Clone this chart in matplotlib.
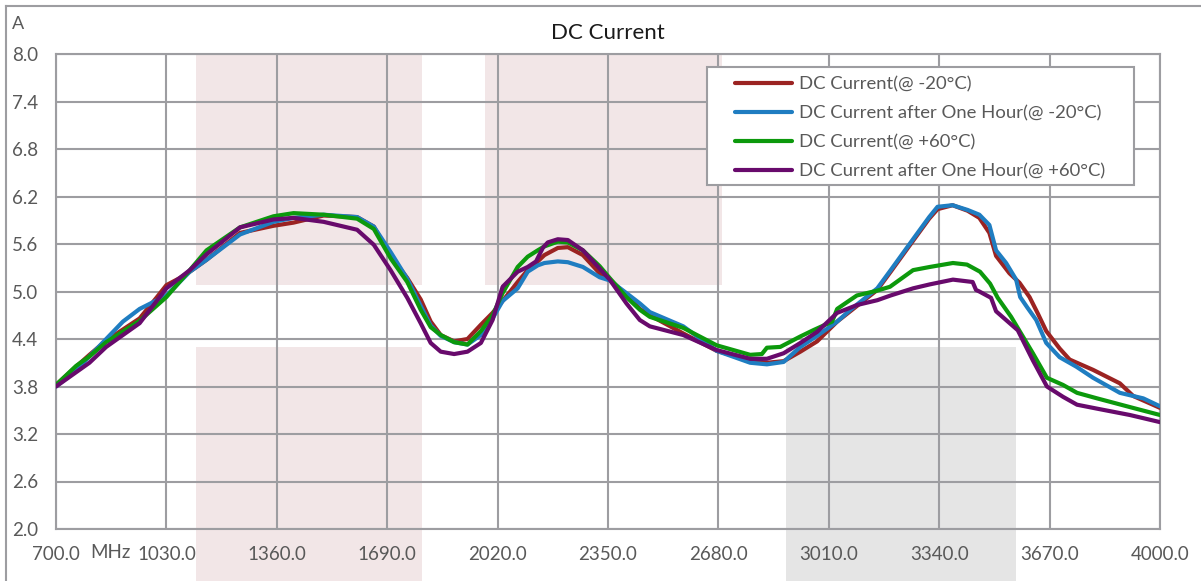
import matplotlib
matplotlib.use("Agg")
import matplotlib.pyplot as plt
from matplotlib.patches import Rectangle
from matplotlib.lines import Line2D

plt.rcParams['font.family'] = ['Lato', 'DejaVu Sans']

# ---- data (MHz, A) ----
f_red = [700, 760, 800, 850, 950, 1000, 1030, 1070, 1100, 1150, 1250, 1350, 1410, 1500, 1600,
         1650, 1700, 1750, 1790, 1820, 1850, 1890, 1930, 1970, 2005, 2035, 2080, 2110, 2140,
         2160, 2200, 2230, 2275, 2325, 2355, 2405, 2445, 2475, 2575, 2675, 2775, 2825, 2875,
         2925, 2975, 3035, 3095, 3155, 3195, 3260, 3310, 3335, 3380, 3425, 3460, 3490, 3510,
         3550, 3580, 3610, 3635, 3660, 3700, 3730, 3800, 3880, 3920, 4000]
dc_red = [3.82, 4.05, 4.20, 4.38, 4.66, 4.92, 5.08, 5.17, 5.25, 5.40, 5.74, 5.83, 5.87, 5.96, 5.94,
          5.82, 5.45, 5.17, 4.90, 4.62, 4.45, 4.37, 4.40, 4.58, 4.73, 4.88, 5.12, 5.27, 5.38,
          5.46, 5.55, 5.56, 5.46, 5.23, 5.15, 4.96, 4.78, 4.70, 4.47, 4.25, 4.13, 4.10, 4.12,
          4.24, 4.37, 4.62, 4.82, 5.02, 5.25, 5.63, 5.92, 6.04, 6.09, 6.02, 5.93, 5.74, 5.45,
          5.23, 5.11, 4.93, 4.72, 4.50, 4.28, 4.14, 4.01, 3.84, 3.68, 3.53]

f_blue = [700, 760, 800, 850, 900, 950, 1030, 1100, 1150, 1250, 1350, 1410, 1500, 1600, 1650,
          1700, 1750, 1790, 1820, 1850, 1890, 1930, 1970, 2005, 2035, 2080, 2110, 2140, 2160,
          2200, 2230, 2275, 2325, 2355, 2405, 2445, 2475, 2575, 2675, 2775, 2825, 2875, 2925,
          2975, 3035, 3075, 3155, 3195, 3260, 3310, 3335, 3380, 3425, 3460, 3490, 3510, 3540,
          3570, 3582, 3603, 3630, 3660, 3700, 3750, 3800, 3880, 3950, 4000]
dc_blue = [3.80, 4.00, 4.18, 4.40, 4.62, 4.78, 4.95, 5.25, 5.40, 5.72, 5.88, 5.93, 5.97, 5.94, 5.82,
           5.50, 5.16, 4.82, 4.57, 4.44, 4.36, 4.33, 4.45, 4.66, 4.88, 5.04, 5.25, 5.33, 5.36,
           5.38, 5.37, 5.31, 5.18, 5.14, 4.98, 4.85, 4.74, 4.56, 4.25, 4.10, 4.08, 4.11, 4.30,
           4.44, 4.62, 4.77, 5.04, 5.27, 5.65, 5.94, 6.07, 6.09, 6.03, 5.97, 5.84, 5.52, 5.36,
           5.15, 4.93, 4.80, 4.64, 4.35, 4.17, 4.05, 3.91, 3.72, 3.65, 3.55]

f_green = [700, 760, 800, 850, 950, 1030, 1100, 1150, 1250, 1350, 1410, 1500, 1600, 1650, 1700,
           1750, 1790, 1820, 1850, 1890, 1930, 1970, 2005, 2035, 2080, 2110, 2140, 2160, 2200,
           2230, 2275, 2325, 2355, 2405, 2445, 2475, 2575, 2675, 2775, 2810, 2825, 2865, 2924,
           2963, 3020, 3035, 3073, 3094, 3154, 3193, 3262, 3312, 3381, 3423, 3462, 3492, 3515,
           3555, 3620, 3662, 3710, 3752, 3812, 3910, 4000]
dc_green = [3.82, 4.06, 4.18, 4.36, 4.63, 4.93, 5.27, 5.52, 5.81, 5.95, 5.99, 5.97, 5.92, 5.79, 5.42,
            5.12, 4.77, 4.55, 4.45, 4.36, 4.33, 4.50, 4.70, 4.98, 5.31, 5.44, 5.52, 5.57, 5.63,
            5.62, 5.52, 5.32, 5.17, 4.93, 4.77, 4.68, 4.54, 4.32, 4.20, 4.21, 4.29, 4.30, 4.43,
            4.51, 4.62, 4.78, 4.89, 4.95, 5.01, 5.06, 5.27, 5.31, 5.36, 5.34, 5.25, 5.10, 4.92,
            4.68, 4.22, 3.91, 3.82, 3.72, 3.65, 3.54, 3.44]

f_purple = [700, 760, 800, 850, 950, 1030, 1100, 1150, 1250, 1350, 1410, 1500, 1600, 1650, 1700,
            1750, 1790, 1820, 1850, 1890, 1930, 1970, 2005, 2035, 2080, 2110, 2135, 2155, 2170,
            2200, 2230, 2275, 2325, 2355, 2405, 2445, 2475, 2575, 2675, 2775, 2825, 2875, 2925,
            2975, 3035, 3095, 3155, 3195, 3262, 3312, 3381, 3440, 3450, 3460, 3495, 3510, 3575,
            3620, 3662, 3710, 3752, 3812, 3910, 4000]
dc_purple = [3.80, 3.98, 4.10, 4.30, 4.60, 5.04, 5.27, 5.47, 5.81, 5.91, 5.93, 5.88, 5.78, 5.59, 5.27,
             4.92, 4.60, 4.35, 4.24, 4.21, 4.24, 4.35, 4.64, 5.06, 5.25, 5.31, 5.38, 5.55, 5.62,
             5.66, 5.65, 5.52, 5.29, 5.15, 4.85, 4.64, 4.56, 4.45, 4.26, 4.15, 4.15, 4.22, 4.35,
             4.49, 4.73, 4.83, 4.89, 4.95, 5.04, 5.09, 5.15, 5.12, 5.02, 5.00, 4.92, 4.75, 4.51,
             4.13, 3.80, 3.67, 3.57, 3.52, 3.44, 3.35]

names = ["DC Current(@ -20°C)", "DC Current after One Hour(@ -20°C)",
         "DC Current(@ +60°C)", "DC Current after One Hour(@ +60°C)"]
colors = ["#9b2322", "#1f7dc1", "#0c990c", "#680a6c"]

x_ticks = [700, 1030, 1360, 1690, 2020, 2350, 2680, 3010, 3340, 3670, 4000]
y_ticks = [2.0, 2.6, 3.2, 3.8, 4.4, 5.0, 5.6, 6.2, 6.8, 7.4, 8.0]

# shaded bands (MHz from, MHz to, A from, A to)
bands = [(1118, 1794, 5.08, 8.0, "#f2e6e7"),
         (1118, 1794, 1.0, 4.30, "#f2e6e7"),
         (1982, 2691, 5.08, 8.0, "#f2e6e7"),
         (2882, 3570, 1.0, 4.30, "#e5e5e5")]

grid_c = "#9d9da1"
text_c = "#595959"
W, H = 1201, 581

fig = plt.figure(figsize=(W / 100, H / 100), dpi=100)
ax = fig.add_axes([56 / W, 1 - 529 / H, (1160 - 56) / W, (529 - 54) / H])

for x0, x1, y0, y1, c in bands:
    ax.add_patch(Rectangle((x0, y0), x1 - x0, y1 - y0, facecolor=c, edgecolor="none",
                           zorder=0.2, clip_on=False))

series = [(f_red, dc_red), (f_blue, dc_blue), (f_green, dc_green), (f_purple, dc_purple)]
for (f, v), name, c in zip(series, names, colors):
    ax.plot(f, v, color=c, lw=3, label=name, solid_capstyle="round", solid_joinstyle="round",
            zorder=3)

ax.set_xlim(700, 4000)
ax.set_ylim(2.0, 8.0)
ax.set_xticks(x_ticks)
ax.set_yticks(y_ticks)
ax.set_xticklabels(["%.1f" % t for t in x_ticks])
ax.set_yticklabels(["%.1f" % t for t in y_ticks])
ax.tick_params(axis="both", length=0, labelsize=13.5, labelcolor=text_c)
ax.tick_params(axis="x", pad=12)
ax.tick_params(axis="y", pad=13)
ax.set_axisbelow(True)
ax.grid(True, color=grid_c, lw=1.5)
for s in ax.spines.values():
    s.set_color(grid_c)
    s.set_linewidth(1.5)

ax.set_title("DC Current", fontsize=16, color="#1a1a1a", pad=11)
fig.text(12 / W, 1 - 24 / H, "A", fontsize=13, color=text_c, ha="left", va="center")
fig.text(90 / W, 1 - 553 / H, "MHz", fontsize=13.5, color=text_c, ha="left", va="center")

# legend box drawn by hand so the inner padding can match
ax.add_patch(Rectangle((707 / W, 1 - 185 / H), 427 / W, 118 / H, transform=fig.transFigure,
                       facecolor="white", edgecolor=grid_c, lw=1.5, zorder=4, clip_on=False))
leg = ax.legend(loc="upper left", bbox_to_anchor=(735 / W, 1 - 76 / H),
                bbox_transform=fig.transFigure, fontsize=13.3, frameon=False,
                borderaxespad=0, borderpad=0, handlelength=3.1, handletextpad=0.37,
                labelspacing=0.70)
leg.set_zorder(5)
for t in leg.get_texts():
    t.set_color(text_c)

# outer chart border (left and top edges visible)
fig.add_artist(Line2D([6 / W, 6 / W], [0, 1 - 6 / H], color=grid_c, lw=1.5))
fig.add_artist(Line2D([6 / W, 1], [1 - 6 / H, 1 - 6 / H], color=grid_c, lw=1.5))

fig.savefig("out.png", dpi=100)
